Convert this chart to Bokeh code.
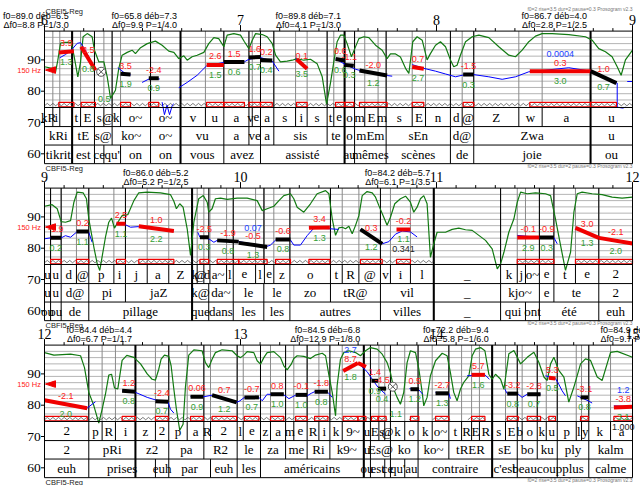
import numpy as np
from bokeh.plotting import figure
from bokeh.models import Range1d
from bokeh.embed import file_html
from bokeh.resources import INLINE
from bokeh.core.properties import value

# ====================== data ======================
PANEL_START = [6, 9, 12]
TIME_TICKS = [[6, 7, 8, 9], [9, 10, 11, 12], [12, 13, 14, 15]]
ST_TICKS = [60, 70, 80, 90]
GRID_ST = [77.2, 79.2, 81.2, 83.2, 85.2, 87.2, 89.2, 91.2, 93.2, 95.2, 97.2]
REF_HZ_LABEL = "150 Hz"
REF_HZ_ST = 86.75
SPEAKER = "CBFI5-Reg"
SETTINGS = "f0=2 rise=3.5 dur=2 pause=0.3 Prosogram v2.3"

# ---------- panel 1 (6 - 9 s), times relative to panel start ----------
P1_PHONE_B = [0, 0.0425, 0.078, 0.141, 0.184, 0.255, 0.303, 0.345, 0.388, 0.541, 0.694, 0.821, 0.915,
              1.043, 1.060, 1.102, 1.170, 1.281, 1.340, 1.442, 1.476, 1.531, 1.582, 1.634, 1.702, 1.743,
              1.876, 1.944, 2.071, 2.131, 2.190, 2.420, 2.539, 2.786, 3.0]
P1_PHONE_L = ["kR", "i", "", "t", "E", "s", "@", "k", "o~", "o~", "v", "u", "a", "v", "e", "a", "s", "i",
              "s", "t", "e", "o", "m", "E", "m", "s", "E", "n", "d", "@", "Z", "w", "a", "u"]
P1_SYL_B = [0, 0.141, 0.255, 0.345, 0.541, 0.694, 0.915, 1.043, 1.102, 1.170, 1.442, 1.531, 1.582,
            1.743, 2.071, 2.190, 2.786, 3.0]
P1_SYL_L = ["kRi", "tE", "s@", "ko~", "o~", "vu", "a", "ve", "a", "sis", "te", "o", "mEm", "sEn",
            "d@", "Zwa", "u"]
P1_WORD_B = [0, 0.141, 0.255, 0.303, 0.388, 0.541, 0.694, 0.915, 1.102, 1.531, 1.582, 1.743, 2.071,
             2.190, 2.786, 3.0]
P1_WORD_L = ["tikrit", "est", "ce", "qu'", "on", "on", "vous", "avez", "assisté", "au", "mêmes",
             "scènes", "de", "joie", "ou"]
P1_STYL = [(0.073, 0.150, 92.4, 92.8, "r", "3.9", "1.3"), (0.187, 0.260, 94.2, 86.7, "r", "3.5", "0.8"),
           (0.388, 0.439, 85.6, 85.3, "k", "3.5", "1.9"), (0.532, 0.583, 84.1, 84.1, "k", "-2.4", "0.9"),
           (0.827, 0.915, 88.4, 88.4, "r", "2.6", "1.5"), (0.915, 1.020, 89.3, 89.3, "k", "1.5", "0.6"),
           (1.043, 1.102, 90.8, 90.9, "k", "1.6", "0.7"), (1.102, 1.162, 90.0, 89.8, "k", "0.2", "0.4"),
           (1.286, 1.340, 90.2, 87.2, "r", "0.1", "3.5"), (1.485, 1.532, 90.3, 89.8, "k", "0.6", "0.6"),
           (1.532, 1.578, 88.4, 88.1, "k", "-1.1", "0.3"), (1.607, 1.748, 86.6, 85.0, "k", "-2.0", "1.2"),
           (1.876, 1.935, 87.7, 87.2, "r", "0.7", "2.7"), (2.136, 2.190, 85.3, 85.3, "k", "-1.5", "0.3"),
           (2.476, 2.786, 86.4, 86.4, "r", "0.3", "3.0"), (2.786, 2.918, 86.4, 82.6, "k", "1.0", "0.7")]
P1_BLUE_NOTES = [(14, "0.0004")]
P1_BLACK_NOTES = []
P1_CROSS = [(0.289, 86.2, "0.5")]
P1_UNITS = [(0.141, "f0=89.0", "déb=6.5", "Δf0=8.8", "P=1/3.0"),
            (0.694, "f0=65.8", "déb=7.3", "Δf0=9.9", "P=1/4.0"),
            (1.531, "f0=89.8", "déb=7.1", "Δf0=4.1", "P=1/3.0"),
            (2.786, "f0=86.7", "déb=4.0", "Δf0=2.8", "P=1/2.5")]
P1_VOICED = [(0.0, 3.0)]
P1_INTENSITY = [(0, 87.8), (0.039, 87.3), (0.056, 86.0), (0.068, 89.9), (0.082, 95.4), (0.107, 95.6),
    (0.136, 95.6), (0.150, 91.5), (0.170, 84.6), (0.184, 89.4), (0.197, 97.4), (0.218, 98.4), (0.243, 97.4),
    (0.255, 93.1), (0.277, 89.4), (0.303, 89.4), (0.320, 84.6), (0.337, 77.7), (0.362, 80.3), (0.379, 87.3),
    (0.396, 91.5), (0.422, 92.4), (0.447, 93.1), (0.464, 92.0), (0.490, 93.9), (0.524, 95.2), (0.566, 96.0),
    (0.600, 94.7), (0.634, 92.8), (0.660, 92.4), (0.685, 90.4), (0.711, 91.3), (0.728, 89.9), (0.753, 91.0),
    (0.779, 91.5), (0.813, 92.4), (0.838, 95.2), (0.864, 97.1), (0.889, 96.8), (0.915, 94.2), (0.932, 97.9),
    (0.966, 98.4), (1.000, 97.9), (1.020, 95.8), (1.043, 93.6), (1.060, 96.3), (1.077, 98.4), (1.111, 98.1),
    (1.136, 97.4), (1.162, 95.2), (1.179, 91.5), (1.204, 89.4), (1.238, 89.6), (1.264, 89.9), (1.289, 90.4),
    (1.323, 89.9), (1.357, 90.2), (1.391, 88.8), (1.417, 84.6), (1.439, 75.9), (1.459, 82.6), (1.476, 89.4),
    (1.493, 95.8), (1.510, 97.9), (1.527, 97.9), (1.544, 95.2), (1.566, 91.0), (1.583, 93.6), (1.604, 96.8),
    (1.629, 97.4), (1.655, 97.1), (1.689, 94.7), (1.723, 93.1), (1.748, 90.4), (1.765, 91.9), (1.791, 91.9),
    (1.816, 90.9), (1.842, 87.3), (1.859, 85.7), (1.879, 95.8), (1.901, 97.4), (1.927, 96.3), (1.952, 90.0),
    (1.969, 92.0), (1.995, 94.7), (2.020, 95.8), (2.046, 94.2), (2.071, 90.0), (2.088, 87.8), (2.105, 88.3),
    (2.122, 91.5), (2.148, 95.8), (2.182, 97.4), (2.216, 97.9), (2.267, 97.1), (2.318, 94.2), (2.369, 91.5),
    (2.403, 91.0), (2.437, 93.1), (2.471, 95.8), (2.505, 97.6), (2.539, 98.4), (2.590, 98.4), (2.675, 98.1),
    (2.760, 97.4), (2.794, 96.3), (2.828, 93.6), (2.862, 92.6), (2.896, 91.0), (2.922, 87.8), (2.942, 85.1),
    (2.964, 90.0), (3.0, 93.1)]
P1_F0 = [
    [(0.078, 90.7), (0.107, 91.7), (0.141, 93.4), (0.167, 95.3), (0.184, 95.5), (0.197, 94.2), (0.23, 90.5), (0.26, 86.7)],
    [(0.374, 87.5), (0.395, 86.5), (0.41, 85.7), (0.44, 85.2)],
    [(0.498, 82.8), (0.54, 84.1), (0.588, 83.9)],
    [(0.600, 76.5), (0.612, 72.5), (0.625, 75.5), (0.638, 72.5), (0.652, 75.5), (0.660, 76.0)],
    [(0.685, 81.1), (0.728, 82.8), (0.779, 85.1), (0.827, 88.1), (0.915, 89.2), (1.02, 89.4), (1.043, 90.2),
     (1.10, 90.8), (1.162, 89.6), (1.196, 86.4)],
    [(1.28, 90.4), (1.34, 87.4)],
    [(1.485, 90.3), (1.536, 88.5), (1.587, 87.0), (1.638, 86.2), (1.689, 85.5), (1.748, 85.0), (1.774, 84.8)],
    [(1.876, 88.5), (1.935, 87.3), (1.995, 86.4), (2.046, 85.5), (2.097, 84.6), (2.131, 85.1), (2.190, 85.3),
     (2.267, 84.6), (2.335, 83.8), (2.403, 84.6), (2.471, 86.2), (2.539, 86.6), (2.675, 87.5), (2.786, 86.4),
     (2.922, 82.6), (2.922, 74.9), (2.95, 74.6), (2.965, 74.9)],
    [(2.973, 83.1), (3.0, 83.1)]]

# ---------- panel 2 (9 - 12 s) ----------
P2_PHONE_B = [0, 0.031, 0.085, 0.163, 0.226, 0.354, 0.413, 0.524, 0.634, 0.753, 0.779, 0.813, 0.844, 0.929,
              0.963, 1.077, 1.122, 1.170, 1.252, 1.459, 1.519, 1.604, 1.714, 1.765, 1.867, 1.986, 2.327,
              2.412, 2.454, 2.525, 2.599, 2.709, 2.828, 3.0]
P2_PHONE_L = ["u", "u", "d", "@", "p", "i", "j", "a", "Z", "k", "@", "d", "a~", "l", "e", "l", "e", "z",
              "o", "t", "R", "@", "v", "i", "l", "_", "k", "j", "o~", "e", "t", "e", "2"]
P2_SYL_B = [0, 0.031, 0.085, 0.226, 0.413, 0.753, 0.838, 0.963, 1.119, 1.252, 1.459, 1.714, 1.986, 2.327,
            2.525, 2.599, 2.828, 3.0]
P2_SYL_L = ["u", "u", "d@", "pi", "jaZ", "k@", "da~", "le", "le", "zo", "tR@", "vil", "_", "kjo~", "e",
            "te", "2"]
P2_WORD_B = [0, 0.031, 0.085, 0.226, 0.753, 0.838, 0.963, 1.119, 1.252, 1.714, 1.986, 2.327, 2.454,
             2.525, 2.828, 3.0]
P2_WORD_L = ["ou", "ou", "de", "pillage", "que", "dans", "les", "les", "autres", "villes", "_", "qui",
             "ont", "été", "euh"]
P2_STYL = [(0.031, 0.085, 83.3, 83.3, "k", "-1.9", "0.2"), (0.163, 0.226, 85.3, 85.3, "k", "0.2", "1.1"),
           (0.367, 0.413, 87.8, 87.8, "r", "2.5", "1.1"), (0.481, 0.660, 87.0, 85.5, "r", "1.0", "2.2"),
           (0.793, 0.838, 83.5, 83.5, "k", "-2.5", "0.3"), (0.881, 0.991, 82.5, 82.1, "k", "-1.9", "0.8"),
           (0.991, 1.136, 81.7, 80.4, "k", "-0.5", "1.3"), (1.179, 1.255, 82.8, 82.8, "k", "-0.6", "0.8"),
           (1.349, 1.456, 86.5, 86.6, "r", "3.4", "1.3"), (1.612, 1.723, 86.0, 81.4, "k", "0.3", "1.2"),
           (1.796, 1.867, 86.0, 86.0, "r", "-0.2", "1.1"), (2.412, 2.525, 83.4, 83.4, "r", "-0.1", "2.9"),
           (2.525, 2.599, 83.4, 83.4, "k", "-0.9", "0.3"), (2.709, 2.828, 86.5, 83.3, "r", "3.0", "1.3"),
           (2.828, 3.000, 83.3, 81.5, "r", "-2.1", "2.0")]
P2_BLUE_NOTES = [(6, "0.07")]
P2_BLACK_NOTES = [(10, "0.341")]
P2_CROSS = []
P2_UNITS = [(0.753, "f0=86.0", "déb=5.2", "Δf0=5.2", "P=1/2.5"),
            (1.986, "f0=84.2", "déb=5.7", "Δf0=6.1", "P=1/3.5")]
P2_VOICED = [(0.0, 1.99), (2.41, 2.60), (2.71, 3.0)]
P2_INTENSITY = [(0, 93.4), (0.039, 93.9), (0.065, 92.6), (0.085, 88.5), (0.107, 88.3), (0.133, 88.8),
    (0.150, 94.7), (0.167, 97.9), (0.197, 97.7), (0.214, 95.8), (0.226, 89.4), (0.252, 80.3), (0.269, 75.0),
    (0.282, 72.9), (0.311, 83.5), (0.328, 88.3), (0.342, 89.6), (0.357, 86.4), (0.374, 88.3), (0.396, 90.4),
    (0.425, 90.7), (0.456, 95.2), (0.481, 97.7), (0.524, 97.9), (0.592, 97.7), (0.643, 97.1), (0.660, 95.0),
    (0.673, 92.6), (0.690, 94.2), (0.707, 93.1), (0.728, 86.2), (0.745, 77.7), (0.762, 88.3), (0.787, 95.8),
    (0.810, 96.8), (0.830, 94.7), (0.838, 91.5), (0.855, 92.6), (0.872, 95.8), (0.898, 96.0), (0.932, 95.6),
    (0.983, 96.0), (1.034, 96.0), (1.085, 95.2), (1.111, 92.0), (1.136, 92.6), (1.170, 93.4), (1.196, 95.2),
    (1.221, 96.8), (1.255, 97.4), (1.272, 95.8), (1.289, 93.1), (1.323, 91.5), (1.357, 94.2), (1.391, 97.4),
    (1.434, 98.4), (1.451, 97.4), (1.468, 89.4), (1.485, 84.1), (1.502, 86.5), (1.519, 86.7), (1.536, 86.2),
    (1.553, 87.0), (1.570, 84.6), (1.587, 87.3), (1.604, 90.4), (1.621, 96.8), (1.646, 98.1), (1.672, 97.7),
    (1.689, 96.3), (1.706, 93.6), (1.731, 89.9), (1.748, 87.3), (1.765, 89.9), (1.787, 94.2), (1.816, 95.8),
    (1.842, 96.6), (1.867, 94.7), (1.884, 91.5), (1.901, 93.1), (1.918, 95.8), (1.935, 96.8), (1.952, 94.2),
    (1.969, 77.1), (1.986, 81.4), (2.003, 85.1), (2.046, 85.1), (2.080, 86.0), (2.114, 86.4), (2.148, 85.9),
    (2.182, 85.7), (2.216, 84.1), (2.250, 82.5), (2.284, 79.8), (2.310, 73.4), (2.327, 75.0), (2.344, 78.7),
    (2.369, 85.1), (2.395, 89.4), (2.412, 94.7), (2.429, 97.9), (2.463, 97.4), (2.505, 97.7), (2.556, 97.4),
    (2.582, 96.8), (2.607, 89.4), (2.633, 80.9), (2.658, 72.9), (2.684, 78.7), (2.701, 91.5), (2.718, 97.4),
    (2.743, 97.9), (2.794, 97.4), (2.845, 97.1), (2.896, 96.3), (2.947, 96.0), (3.0, 96.3)]
P2_F0 = [
    [(0, 83.0), (0.031, 83.3), (0.085, 83.3), (0.107, 84.0), (0.133, 83.5), (0.163, 85.1), (0.226, 85.1), (0.243, 81.9)],
    [(0.367, 87.8), (0.413, 87.5), (0.439, 86.7), (0.481, 86.9), (0.57, 86.3), (0.660, 85.5)],
    [(0.782, 85.1), (0.793, 83.5), (0.838, 83.0), (0.864, 81.9), (0.881, 82.5), (0.991, 82.1), (1.136, 80.6),
     (1.153, 81.0), (1.179, 82.6), (1.255, 82.6), (1.272, 81.0), (1.306, 81.0), (1.340, 84.0), (1.374, 86.4),
     (1.459, 86.2), (1.50, 86.0)],
    [(1.612, 86.0), (1.723, 81.4), (1.757, 82.1), (1.791, 84.5), (1.825, 85.5), (1.867, 85.2), (1.901, 83.6)],
    [(2.412, 84.1), (2.525, 83.4), (2.599, 83.4), (2.616, 81.4)],
    [(2.709, 86.2), (2.828, 83.3), (2.879, 82.5), (2.998, 81.5)]]

# ---------- panel 3 (12 - 15 s) ----------
P3_PHONE_B = [0, 0.226, 0.294, 0.362, 0.464, 0.566, 0.634, 0.728, 0.813, 0.847, 0.983, 1.014, 1.102, 1.153,
              1.230, 1.272, 1.340, 1.400, 1.456, 1.519, 1.629, 1.663, 1.706, 1.736, 1.765, 1.838, 1.906,
              1.978, 2.063, 2.128, 2.179, 2.219, 2.284, 2.352, 2.412, 2.437, 2.514, 2.560, 2.616, 2.713,
              2.740, 2.777, 2.888, 3.0]
P3_PHONE_L = ["2", "p", "R", "i", "z", "2", "p", "a", "R", "2", "l", "e", "z", "a", "m", "e", "R", "i", "k",
              "9~", "u", "E", "s", "@", "k", "o", "k", "o~", "t", "R", "E", "R", "s", "E", "b", "o", "k",
              "u", "p", "l", "y", "k", "a"]
P3_SYL_B = [0, 0.226, 0.464, 0.634, 0.813, 0.983, 1.102, 1.230, 1.340, 1.456, 1.629, 1.663, 1.765, 1.906,
            2.063, 2.284, 2.412, 2.514, 2.616, 2.777, 3.0]
P3_SYL_L = ["2", "pRi", "z2", "pa", "R2", "le", "za", "me", "Ri", "k9~", "u", "Es@", "ko", "ko~", "tRER",
            "sE", "bo", "ku", "ply", "kalm"]
P3_WORD_B = [0, 0.226, 0.566, 0.634, 0.847, 0.983, 1.102, 1.629, 1.663, 1.736, 1.765, 1.838, 1.906, 2.284,
             2.412, 2.616, 2.777, 3.0]
P3_WORD_L = ["euh", "prises", "euh", "par", "euh", "les", "américains", "ou", "est", "ce", "qu'", "au",
             "contraire", "c'est", "beaucoup", "plus", "calme"]
P3_STYL = [(0.000, 0.218, 81.6, 79.0, "r", "-2.1", "2.0"), (0.396, 0.464, 84.6, 84.3, "k", "1.2", "0.8"),
           (0.566, 0.631, 81.3, 81.1, "k", "-2.4", "0.7"), (0.745, 0.810, 82.7, 82.7, "k", "0.06", "0.9"),
           (0.855, 0.980, 83.2, 80.9, "k", "0.7", "1.2"), (1.020, 1.094, 82.5, 82.5, "k", "-0.7", "0.7"),
           (1.153, 1.221, 83.5, 83.5, "k", "0.8", "1.0"), (1.281, 1.340, 83.3, 83.3, "k", "-0.1", "1.0"),
           (1.378, 1.446, 84.3, 84.3, "k", "-1.8", "0.8"), (1.524, 1.599, 90.9, 93.5, "r", "8.7", "1.8"),
           (1.599, 1.640, 93.5, 92.3, "r", "", ""), (1.668, 1.702, 87.8, 87.8, "k", "1.4", "0.9"),
           (1.702, 1.743, 85.3, 85.3, "k", "-4.5", "0.4"), (1.867, 1.910, 85.1, 85.1, "k", "0.5", "1.2"),
           (1.995, 2.063, 83.8, 83.8, "k", "-2.7", "1.3"), (2.179, 2.247, 89.7, 89.7, "r", "5.7", "1.6"),
           (2.361, 2.417, 83.7, 83.7, "k", "-3.2", "0.8"), (2.463, 2.531, 83.5, 83.5, "k", "-2.8", "0.7"),
           (2.573, 2.607, 88.8, 88.5, "r", "5.3", "0.5"), (2.735, 2.774, 82.5, 82.5, "k", "-3.1", "0.8"),
           (2.905, 3.000, 79.3, 79.5, "r", "-3.8", "3.1")]
P3_BLUE_NOTES = [(9, "2.7"), (20, "1.2")]
P3_BLACK_NOTES = [(20, "1.000")]
P3_CROSS = [(1.777, 85.9, "1.1")]
P3_UNITS = [(0.464, "f0=84.4", "déb=4.4", "Δf0=6.7", "P=1/1.7"),
            (1.629, "f0=84.5", "déb=6.8", "Δf0=12.9", "P=1/8.0"),
            (2.284, "f0=72.2", "déb=9.4", "Δf0=5.8", "P=1/6.0")]
P3_CUT_UNIT = (2.837, "f0=84.9  déb=", "Δf0=9.7  P=")
P3_VOICED = [(0.0, 1.75), (1.86, 1.91), (1.98, 2.07), (2.16, 2.25), (2.35, 2.61), (2.73, 2.78), (2.90, 3.0)]
P3_INTENSITY = [(0, 96.8), (0.048, 96.0), (0.133, 96.3), (0.184, 95.8), (0.204, 92.0), (0.226, 84.1),
    (0.252, 79.8), (0.277, 74.3), (0.294, 78.7), (0.311, 83.5), (0.328, 89.6), (0.342, 89.9), (0.357, 85.5),
    (0.374, 85.2), (0.396, 94.3), (0.420, 95.9), (0.456, 95.3), (0.490, 93.2), (0.524, 90.0), (0.549, 88.3),
    (0.566, 88.0), (0.583, 91.5), (0.595, 94.7), (0.612, 96.0), (0.634, 95.6), (0.646, 92.6), (0.660, 85.1),
    (0.673, 78.7), (0.690, 72.0), (0.707, 73.9), (0.719, 85.7), (0.736, 96.0), (0.762, 97.7), (0.804, 97.4),
    (0.821, 93.6), (0.838, 92.0), (0.855, 94.7), (0.872, 96.8), (0.906, 97.7), (0.957, 97.4), (0.983, 95.8),
    (1.0, 95.2), (1.017, 96.0), (1.034, 97.1), (1.068, 96.8), (1.085, 94.2), (1.102, 93.1), (1.119, 95.2),
    (1.136, 96.8), (1.170, 97.1), (1.204, 95.2), (1.221, 92.6), (1.238, 91.3), (1.259, 93.1), (1.272, 94.9),
    (1.289, 95.8), (1.323, 95.6), (1.357, 94.9), (1.383, 96.0), (1.417, 96.6), (1.434, 95.8), (1.451, 89.6),
    (1.468, 84.1), (1.485, 76.6), (1.493, 86.2), (1.510, 94.7), (1.527, 96.8), (1.553, 97.4), (1.587, 96.8),
    (1.612, 95.8), (1.638, 97.4), (1.663, 98.4), (1.697, 97.9), (1.723, 96.3), (1.748, 93.6), (1.765, 90.4),
    (1.782, 85.1), (1.799, 82.5), (1.816, 80.3), (1.833, 84.1), (1.850, 93.6), (1.867, 97.4), (1.893, 96.8),
    (1.910, 91.5), (1.927, 84.1), (1.935, 79.8), (1.952, 82.5), (1.969, 89.4), (1.995, 94.2), (2.029, 96.6),
    (2.054, 95.8), (2.071, 90.4), (2.088, 84.1), (2.105, 81.4), (2.122, 85.1), (2.139, 87.3), (2.165, 89.4),
    (2.182, 95.8), (2.199, 97.9), (2.225, 98.4), (2.247, 97.4), (2.267, 89.9), (2.284, 88.3), (2.301, 89.9),
    (2.327, 88.3), (2.344, 85.1), (2.369, 96.4), (2.395, 97.5), (2.429, 93.2), (2.463, 95.3), (2.497, 96.9),
    (2.522, 93.7), (2.548, 89.0), (2.565, 87.9), (2.582, 93.2), (2.599, 95.3), (2.624, 91.1), (2.650, 89.0),
    (2.675, 81.0), (2.701, 85.8), (2.735, 93.2), (2.760, 94.8), (2.786, 94.3), (2.820, 89.0), (2.845, 87.9),
    (2.888, 96.9), (2.922, 97.2), (3.0, 95.3)]
P3_F0 = [
    [(0.0, 81.6), (0.218, 79.1), (0.243, 80.3), (0.260, 81.1)],
    [(0.396, 84.8), (0.464, 84.1), (0.524, 82.5), (0.566, 81.7), (0.631, 80.9), (0.643, 78.7), (0.660, 77.5)],
    [(0.745, 82.8), (0.813, 82.7), (0.855, 83.2), (0.980, 80.9), (0.997, 81.4), (1.020, 82.5), (1.094, 82.5),
     (1.111, 81.4), (1.136, 83.5), (1.221, 83.3), (1.247, 82.1), (1.281, 83.2), (1.340, 83.0), (1.361, 83.8),
     (1.378, 84.3), (1.446, 84.1), (1.468, 82.5)],
    [(1.522, 91.0), (1.600, 93.4), (1.646, 90.7), (1.672, 88.3), (1.702, 85.7), (1.740, 83.5)],
    [(1.862, 85.3), (1.910, 84.9), (1.930, 83.5)],
    [(1.995, 84.1), (2.063, 83.8), (2.071, 82.1)],
    [(2.156, 89.4), (2.247, 89.7), (2.270, 88.3)],
    [(2.349, 85.1), (2.361, 83.7), (2.417, 83.5), (2.437, 82.5), (2.463, 83.5), (2.531, 83.5)],
    [(2.556, 89.4), (2.607, 88.5), (2.624, 86.7), (2.641, 84.6), (2.658, 83.0)],
    [(2.718, 83.0), (2.774, 81.4), (2.794, 80.7)],
    [(2.905, 79.8), (2.998, 79.5)]]

PANELS = [
    dict(ticks=TIME_TICKS[0], phone_b=P1_PHONE_B, phone_l=P1_PHONE_L, syl_b=P1_SYL_B, syl_l=P1_SYL_L,
         word_b=P1_WORD_B, word_l=P1_WORD_L, styl=P1_STYL, blue=P1_BLUE_NOTES, black=P1_BLACK_NOTES,
         cross=P1_CROSS, units=P1_UNITS, voiced=P1_VOICED, inten=P1_INTENSITY, f0=P1_F0),
    dict(ticks=TIME_TICKS[1], phone_b=P2_PHONE_B, phone_l=P2_PHONE_L, syl_b=P2_SYL_B, syl_l=P2_SYL_L,
         word_b=P2_WORD_B, word_l=P2_WORD_L, styl=P2_STYL, blue=P2_BLUE_NOTES, black=P2_BLACK_NOTES,
         cross=P2_CROSS, units=P2_UNITS, voiced=P2_VOICED, inten=P2_INTENSITY, f0=P2_F0),
    dict(ticks=TIME_TICKS[2], phone_b=P3_PHONE_B, phone_l=P3_PHONE_L, syl_b=P3_SYL_B, syl_l=P3_SYL_L,
         word_b=P3_WORD_B, word_l=P3_WORD_L, styl=P3_STYL, blue=P3_BLUE_NOTES, black=P3_BLACK_NOTES,
         cross=P3_CROSS, units=P3_UNITS, voiced=P3_VOICED, inten=P3_INTENSITY, f0=P3_F0),
]

# ====================== layout / style ======================
W, H = 640, 485
LEFT_PX, PX_S, PX_ST, PANEL_PX, REF90_PX = 44.0, 196.0, 3.13, 157.0, 59.4
OFF = PANEL_PX / PX_ST
Y_TOP = 90 + REF90_PX / PX_ST
Y_BOT = Y_TOP - H / PX_ST
X_MIN = -LEFT_PX / PX_S
X_MAX = (W - LEFT_PX) / PX_S
SPAN = 3.0

PITCH_TOP, PITCH_BOT, PHONE_BOT, SYL_BOT, WORD_BOT = 99.2, 74.8, 68.7, 62.8, 56.85
NUC_LO, NUC_HI = 75.0, 76.45
ZZ_LO, ZZ_HI = 75.35, 76.1
TIME_LABEL_ST, ANN1_ST, ANN2_ST = 102.8, 103.9, 101.15
SPEAKER_ST, SETTINGS_ST = 105.6, 106.3

def px(n):
    return n / PX_S

def py(n):
    return n / PX_ST

SANS = "Liberation Sans"
SERIF = "Liberation Serif"
RED, RED_TXT = "#f00000", "#ff2020"
GREEN_LINE, GREEN_TXT = "#127a12", "#33a033"
BLUE, BLUE_TXT = "#0000ff", "#2040ff"
GRID, PHONE_LINE = "#b4b4b4", "#8a8a8a"

p = figure(width=W, height=H, x_range=Range1d(X_MIN, X_MAX), y_range=Range1d(Y_BOT, Y_TOP),
           x_axis_type=None, y_axis_type=None, toolbar_location=None, output_backend="svg",
           min_border=0)
p.outline_line_color = None
p.background_fill_color = "white"


def segs(x0, x1, y0, y1, color, width=1.0):
    if len(x0):
        p.segment(x0=list(x0), x1=list(x1), y0=list(y0), y1=list(y1), line_color=color, line_width=width)


def texts(xs, ys, labels, size, color, font=SANS, align="center", baseline="middle"):
    if len(xs):
        p.text(x=list(xs), y=list(ys), text=list(labels), text_font=value(font), text_font_size=size,
               text_color=color, text_align=align, text_baseline=baseline)


for k, P in enumerate(PANELS):
    yo = k * OFF
    # horizontal grid of the pitch area
    segs([0] * len(GRID_ST), [SPAN] * len(GRID_ST), [g - yo for g in GRID_ST], [g - yo for g in GRID_ST], GRID)
    # vertical boundaries in the pitch area
    pb = [b for b in P["phone_b"] if 0 < b < SPAN]
    segs(pb, pb, [PITCH_BOT - yo] * len(pb), [PITCH_TOP - yo] * len(pb), PHONE_LINE, 1)
    sb = [b for b in P["syl_b"] if 0 < b < SPAN]
    segs(sb, sb, [PITCH_BOT - yo] * len(sb), [PITCH_TOP - yo] * len(sb), "black", 1)
    ub = [u[0] for u in P["units"] if 0 < u[0] < SPAN]
    segs(ub, ub, [WORD_BOT - yo] * len(ub), [PITCH_TOP - yo] * len(ub), "black", 2)
    # voicing zigzag
    zx, zy = [], []
    for a, b in P["voiced"]:
        n = max(1, int(round((b - a) / px(2.8))))
        zx.append([a + (b - a) * i / n for i in range(n + 1)])
        zy.append([(ZZ_HI if i % 2 else ZZ_LO) - yo for i in range(n + 1)])
    p.multi_line(xs=zx, ys=zy, line_color="#222222", line_width=0.6)
    # intensity
    p.line([q[0] for q in P["inten"]], [q[1] - yo for q in P["inten"]], line_color=GREEN_LINE, line_width=1.2)
    # raw f0
    p.multi_line(xs=[[q[0] for q in c] for c in P["f0"]], ys=[[q[1] - yo for q in c] for c in P["f0"]],
                 line_color=BLUE, line_width=1)
    # stylisation
    st = P["styl"]
    for code, col in (("r", RED), ("k", "black")):
        sel = [s for s in st if s[4] == code]
        segs([s[0] for s in sel], [s[1] for s in sel], [s[2] - yo for s in sel], [s[3] - yo for s in sel],
             col, 4)
    # nucleus boxes
    p.quad(left=[s[0] for s in st], right=[s[1] for s in st], bottom=[NUC_LO - yo] * len(st),
           top=[NUC_HI - yo] * len(st), fill_color=None, line_color=RED, line_width=1.2)
    # value labels
    tc = [(s[0] + s[1]) / 2 for s in st]
    vm = [(s[2] + s[3]) / 2 - yo for s in st]
    texts(tc, [v + 2.7 for v in vm], [s[5] for s in st], "9px", RED_TXT)
    texts(tc, [v - 3.2 for v in vm], [s[6] for s in st], "9px", GREEN_TXT)
    texts([tc[i] for i, _ in P["blue"]], [vm[i] + 5.5 for i, _ in P["blue"]], [t for _, t in P["blue"]],
          "9px", BLUE_TXT)
    texts([tc[i] for i, _ in P["black"]], [vm[i] - 6.4 for i, _ in P["black"]], [t for _, t in P["black"]],
          "9px", "#222222")
    if P["cross"]:
        p.scatter([c[0] for c in P["cross"]], [c[1] - yo for c in P["cross"]], marker="circle_x", size=9,
                  fill_color="white", line_color="#555555")
        texts([c[0] + px(3) for c in P["cross"]], [c[1] - 8.7 - yo for c in P["cross"]],
              [c[2] for c in P["cross"]], "9px", GREEN_TXT)
    # annotation tiers
    for bkey, lkey, top, bot in (("phone_b", "phone_l", PITCH_BOT, PHONE_BOT),
                                 ("syl_b", "syl_l", PHONE_BOT, SYL_BOT),
                                 ("word_b", "word_l", SYL_BOT, WORD_BOT)):
        bs = P[bkey]
        inner = [b for b in bs if 0 < b < SPAN]
        segs(inner, inner, [bot - yo] * len(inner), [top - yo] * len(inner), "black", 1)
        mids = [(bs[i] + bs[i + 1]) / 2 for i in range(len(bs) - 1)]
        texts(mids, [(top + bot) / 2 - yo] * len(mids), P[lkey], "13px", "black", SERIF)
    # frame and tier separators
    p.quad(left=[0], right=[SPAN], bottom=[WORD_BOT - yo], top=[PITCH_TOP - yo], fill_color=None,
           line_color="black", line_width=1)
    segs([0] * 3, [SPAN] * 3, [v - yo for v in (PITCH_BOT, PHONE_BOT, SYL_BOT)],
         [v - yo for v in (PITCH_BOT, PHONE_BOT, SYL_BOT)], "black", 1)
    # semitone axis
    segs([-px(3.5)] * 4, [0] * 4, [v - yo for v in ST_TICKS], [v - yo for v in ST_TICKS], "black", 1)
    texts([-px(3.8)] * 4, [v - yo for v in ST_TICKS], [str(v) for v in ST_TICKS], "13.5px", "black", SERIF,
          align="right")
    # 150 Hz reference
    p.patches(xs=[[px(1), px(11), px(11)]],
              ys=[[REF_HZ_ST - yo, REF_HZ_ST + py(3.3) - yo, REF_HZ_ST - py(3.3) - yo]],
              fill_color=RED, line_color=RED)
    texts([-px(3.5)], [REF_HZ_ST - yo], [REF_HZ_LABEL], "7.5px", RED_TXT, align="right")
    # time axis on top
    tt = [i / 10 for i in range(31)]
    tl = [PITCH_TOP + (py(6) if abs(t - round(t)) < 1e-9 else py(3)) - yo for t in tt]
    segs(tt, tt, [PITCH_TOP - yo] * len(tt), tl, "black", 1)
    texts([0, 1, 2, 3], [TIME_LABEL_ST - yo] * 4, [str(t) for t in P["ticks"]], "14px", "black", SERIF)
    # prosodic unit annotations
    us = P["units"]
    texts([u[0] - px(1) for u in us], [ANN1_ST - yo] * len(us), [f"{u[1]}  {u[2]}" for u in us], "9px", "black",
          align="right")
    texts([u[0] - px(1) for u in us], [ANN2_ST - yo] * len(us), [f"{u[3]}  {u[4]}" for u in us], "9px", "black",
          align="right")

# truncated annotation at the right edge of panel 3
yo3 = 2 * OFF
texts([P3_CUT_UNIT[0]], [ANN1_ST - yo3], [P3_CUT_UNIT[1]], "9px", "black", align="left")
texts([P3_CUT_UNIT[0]], [ANN2_ST - yo3], [P3_CUT_UNIT[2]], "9px", "black", align="left")

# speaker / settings captions
texts([px(1)] * 4, [SPEAKER_ST - k * OFF for k in range(4)], [SPEAKER] * 4, "7.5px", "#222222", align="left")
texts([SPAN] * 4, [SETTINGS_ST - k * OFF for k in range(4)], [SETTINGS] * 4, "5px", "#777777", align="right")

open("out.html", "w").write(file_html(p, INLINE))
